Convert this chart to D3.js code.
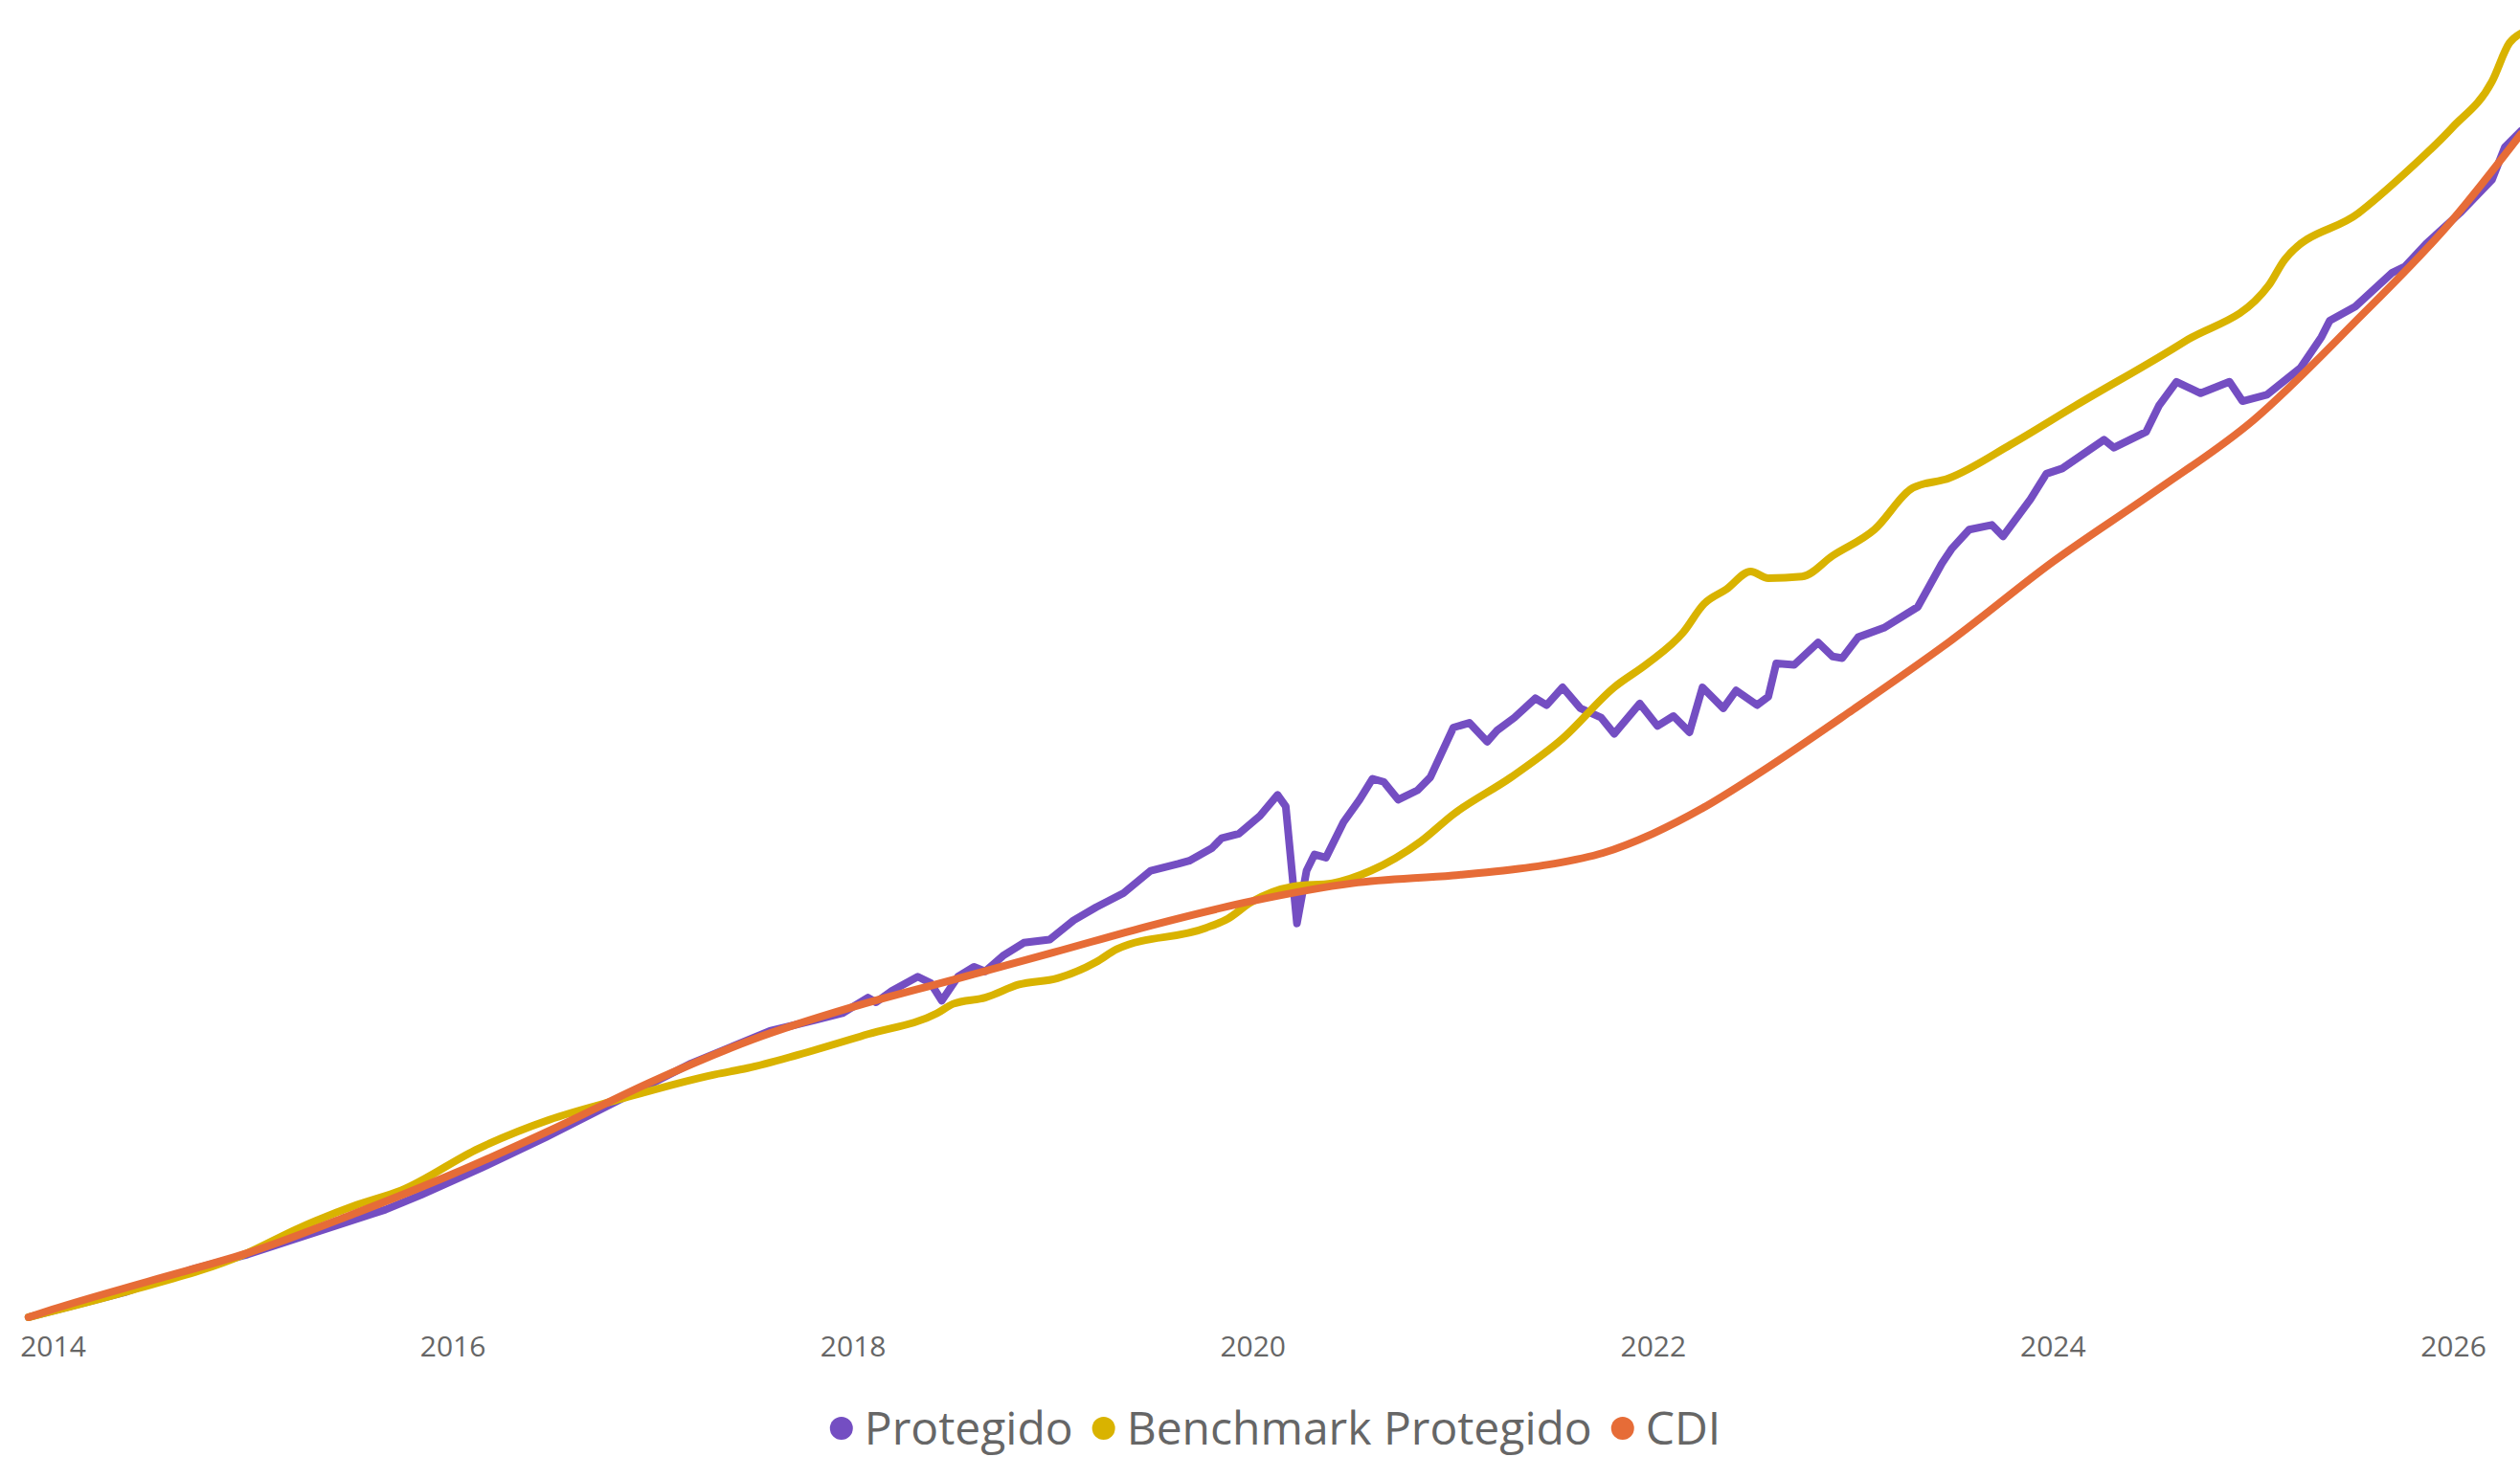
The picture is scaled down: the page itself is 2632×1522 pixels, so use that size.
<!DOCTYPE html>
<html>
<head>
<meta charset="utf-8">
<script src="https://cdn.jsdelivr.net/npm/d3@7"></script>
<style>
  html, body { margin: 0; padding: 0; background: #fff; }
  svg { display: block; }
</style>
</head>
<body>
<div id="chart"></div>
<script>
const width = 2632;
const height = 1522;

// series: [decimal year, cumulative return %]
const protegido = [
  [2013.879, 0], [2014.370, 4.9], [2014.699, 9.2], [2014.973, 12.0], [2015.342, 16.6],
  [2015.664, 20.6], [2015.841, 23.4], [2016.146, 28.6], [2016.468, 34.5], [2016.814, 41.2],
  [2017.191, 48.6], [2017.585, 54.8], [2017.810, 56.9], [2017.947, 58.2], [2018.076, 61.2],
  [2018.116, 60.3], [2018.196, 62.5], [2018.325, 65.2], [2018.389, 64.0], [2018.445, 60.6],
  [2018.526, 65.2], [2018.606, 67.1], [2018.662, 66.2], [2018.751, 69.2], [2018.855, 71.7],
  [2018.984, 72.3], [2019.105, 76.0], [2019.217, 78.5], [2019.354, 81.2], [2019.490, 85.5],
  [2019.627, 86.8], [2019.683, 87.4], [2019.796, 89.8], [2019.844, 91.7], [2019.932, 92.6],
  [2020.037, 96.0], [2020.125, 100.0], [2020.166, 97.8], [2020.222, 75.4], [2020.270, 85.5],
  [2020.310, 88.6], [2020.367, 88.0], [2020.455, 94.8], [2020.535, 99.1], [2020.600, 103.1],
  [2020.656, 102.5], [2020.728, 99.1], [2020.825, 100.9], [2020.889, 103.4], [2021.002, 112.9],
  [2021.082, 113.8], [2021.171, 110.2], [2021.219, 112.3], [2021.307, 114.8], [2021.412, 118.5],
  [2021.468, 117.2], [2021.548, 120.6], [2021.637, 116.6], [2021.741, 114.8], [2021.806, 111.7],
  [2021.934, 117.5], [2022.023, 113.2], [2022.103, 115.1], [2022.183, 112.0], [2022.248, 120.6],
  [2022.352, 116.6], [2022.416, 120.0], [2022.521, 117.2], [2022.577, 118.8], [2022.617, 125.2],
  [2022.706, 124.9], [2022.826, 129.2], [2022.899, 126.5], [2022.947, 126.2], [2023.027, 130.2],
  [2023.156, 132.0], [2023.325, 136.0], [2023.445, 144.3], [2023.494, 147.1], [2023.582, 150.8],
  [2023.695, 151.7], [2023.751, 149.5], [2023.888, 156.6], [2023.968, 161.5], [2024.048, 162.5],
  [2024.257, 168.0], [2024.306, 166.5], [2024.467, 169.5], [2024.531, 174.5], [2024.619, 179.1],
  [2024.740, 176.9], [2024.884, 179.1], [2024.949, 175.4], [2025.069, 176.6], [2025.238, 181.8],
  [2025.342, 187.7], [2025.383, 190.8], [2025.511, 193.5], [2025.696, 200.0], [2025.760, 201.2],
  [2025.865, 205.5], [2026.034, 211.4], [2026.195, 217.8], [2026.259, 224.0], [2026.339, 227.1]
];

const benchmark = [
  [2013.879, 0], [2014.370, 4.9], [2014.973, 12.3], [2015.222, 16.9], [2015.519, 21.5],
  [2015.744, 24.3], [2016.130, 32.3], [2016.484, 37.8], [2016.814, 41.5], [2017.312, 46.5],
  [2017.473, 47.7], [2017.722, 50.2], [2018.076, 54.2], [2018.421, 58.2], [2018.502, 60.0],
  [2018.662, 61.2], [2018.831, 63.7], [2019.024, 64.9], [2019.217, 68.0], [2019.322, 70.5],
  [2019.764, 74.5], [2019.876, 76.3], [2019.989, 79.4], [2020.206, 82.5], [2020.399, 83.1],
  [2020.592, 85.5], [2020.841, 91.1], [2021.002, 96.3], [2021.291, 103.4], [2021.548, 110.8],
  [2021.806, 120.6], [2021.974, 125.2], [2022.151, 131.1], [2022.256, 136.6], [2022.368, 139.4],
  [2022.489, 142.8], [2022.577, 141.5], [2022.746, 141.8], [2022.899, 145.8], [2023.108, 150.8],
  [2023.301, 158.8], [2023.478, 160.6], [2023.791, 167.1], [2024.113, 174.5], [2024.659, 186.8],
  [2025.077, 197.5], [2025.158, 202.5], [2025.527, 211.4], [2025.744, 218.5], [2025.994, 227.7],
  [2026.195, 236.6], [2026.283, 244.0], [2026.339, 245.8]
];

const cdi = [
  [2013.879, 0], [2014.0, 1.5], [2014.5, 7.1], [2015.0, 12.6], [2015.5, 19.7],
  [2016.0, 27.4], [2016.5, 36.0], [2017.0, 45.2], [2017.5, 53.2], [2018.0, 59.4],
  [2018.5, 64.6], [2019.0, 69.8], [2019.5, 75.1], [2020.0, 79.7], [2020.5, 83.1],
  [2021.0, 84.6], [2021.25, 85.5], [2021.5, 86.8], [2021.75, 88.9], [2022.0, 92.6],
  [2022.25, 97.5], [2022.5, 103.4], [2023.0, 116.3], [2023.5, 129.8], [2024.0, 144.6],
  [2024.5, 157.8], [2025.0, 171.7], [2025.5, 190.2], [2026.0, 210.2], [2026.339, 226.5]
];

const seriesNames = ["Protegido", "Benchmark Protegido", "CDI"];
const seriesColors = ["#744EC2", "#D9B300", "#E66C37"];
const tickYears = [2014, 2016, 2018, 2020, 2022, 2024, 2026];

function toDate(dec) {
  const y = Math.floor(dec);
  return new Date(Date.UTC(y, 0, 1) + (dec - y) * 365.25 * 864e5);
}

const series = [protegido, benchmark, cdi].map((pts, i) => ({
  name: seriesNames[i],
  color: seriesColors[i],
  curve: i === 0 ? d3.curveLinear : d3.curveMonotoneX,
  values: pts.map(d => ({ date: toDate(d[0]), value: d[1] }))
}));

const x = d3.scaleUtc()
    .domain([new Date(Date.UTC(2014, 0, 1)), new Date(Date.UTC(2026, 0, 1))])
    .range([55, 2562]);

const y = d3.scaleLinear()
    .domain([0, 250])
    .range([1376, 12]);

const svg = d3.select("#chart")
  .append("svg")
    .attr("width", width)
    .attr("height", height)
    .style("font-family", "'Open Sans', 'Segoe UI', sans-serif");

// x axis, labels only
const xAxis = svg.append("g")
    .attr("transform", "translate(0,1388)")
    .call(d3.axisBottom(x)
      .tickValues(tickYears.map(yr => new Date(Date.UTC(yr, 0, 1))))
      .tickFormat(d3.utcFormat("%Y"))
      .tickSize(0)
      .tickPadding(8));
xAxis.select(".domain").remove();
xAxis.selectAll("text")
    .style("font-size", "30px")
    .style("font-family", "'Open Sans', 'Segoe UI', sans-serif")
    .attr("fill", "#666666");

const line = d3.line()
    .x(d => x(d.date))
    .y(d => y(d.value));

svg.append("g")
  .selectAll("path")
  .data(series)
  .join("path")
    .attr("fill", "none")
    .attr("stroke", d => d.color)
    .attr("stroke-width", 8)
    .attr("stroke-linejoin", "round")
    .attr("stroke-linecap", "round")
    .attr("d", d => line.curve(d.curve)(d.values));

// legend, centred under the plot
const legend = svg.append("g");

const items = legend.selectAll("g")
  .data(series)
  .join("g");

items.append("circle")
    .attr("r", 12)
    .attr("fill", d => d.color);

items.append("text")
    .attr("x", 24)
    .attr("dy", "0.35em")
    .style("font-size", "48px")
    .attr("fill", "#666666")
    .text(d => d.name);

let cursor = 0;
items.each(function() {
  const g = d3.select(this);
  const w = g.select("text").node().getComputedTextLength();
  g.attr("transform", `translate(${cursor + 12},0)`);
  cursor += 12 + 24 + w + 20;
});
const total = cursor - 20;
legend.attr("transform", `translate(${1332 - total / 2},1492)`);
</script>
</body>
</html>
